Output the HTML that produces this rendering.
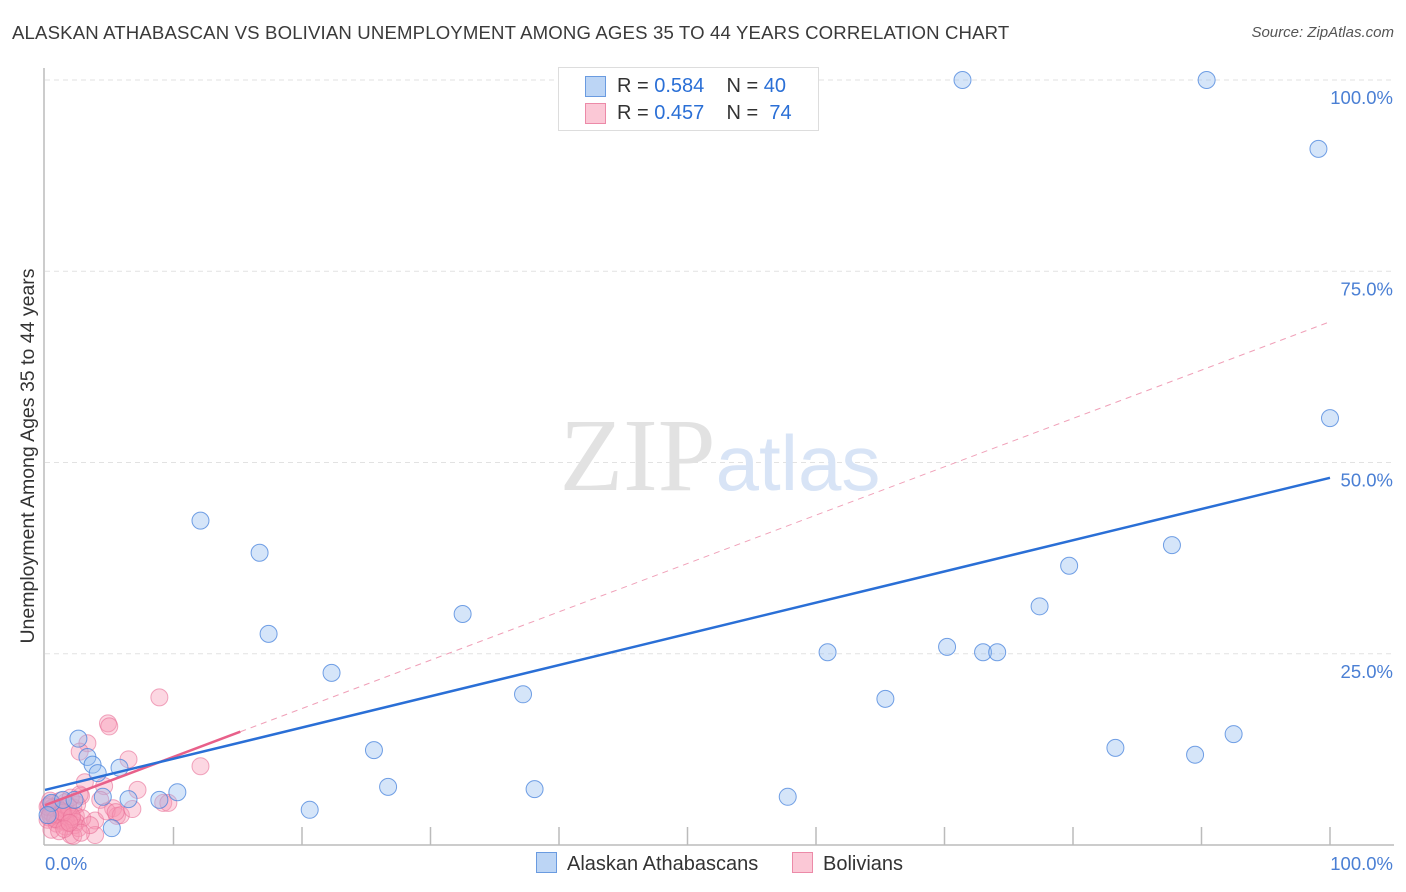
<!DOCTYPE html>
<html><head><meta charset="utf-8">
<style>
body{margin:0;background:#fff;font-family:"Liberation Sans",sans-serif;}
#wrap{position:relative;width:1406px;height:892px;overflow:hidden;}
.t{position:absolute;white-space:nowrap;}
</style></head>
<body>
<div id="wrap">
<div class="t" style="left:12px;top:22px;font-size:18.6px;letter-spacing:0.15px;color:#3a3a3a;">ALASKAN ATHABASCAN VS BOLIVIAN UNEMPLOYMENT AMONG AGES 35 TO 44 YEARS CORRELATION CHART</div>
<div class="t" style="right:12px;top:24px;font-size:15px;color:#555;font-style:italic;">Source: ZipAtlas.com</div>
<svg id="svg" width="1406" height="892" style="position:absolute;left:0;top:0"></svg>
</div>
<script>
const yTicks=[25,50,75,100];
const yTickLabels=["25.0%","50.0%","75.0%","100.0%"];
const xLabels=["0.0%","100.0%"];
const blueX=[71.4,90.4,99.1,100,12.1,16.7,17.4,32.5,22.3,37.2,25.6,26.7,38.1,20.6,57.8,60.9,65.4,70.2,73,74.1,77.4,79.7,87.7,83.3,89.5,92.5,2.6,3.3,3.7,4.1,5.8,6.5,8.9,10.3,5.2,0.5,1.4,2.3,0.2,4.5];
const blueY=[100,100,91,55.8,42.4,38.2,27.6,30.2,22.5,19.7,12.4,7.6,7.3,4.6,6.3,25.2,19.1,25.9,25.2,25.2,31.2,36.5,39.2,12.7,11.8,14.5,13.9,11.5,10.5,9.4,10.1,6.0,5.9,6.9,2.2,5.5,5.9,5.9,3.9,6.3];
const pinkX=[8.9,4.9,5.0,3.3,2.7,6.5,12.1,3.1,4.6,7.2,9.2,9.6,2.8,4.3,5.3,5.6,3.9,3.9,2.0,1.2,0.3,0.6,0.9,1.3,1.6,1.9,2.2,2.5,0.4,0.8,1.1,1.5,1.8,2.1,2.4,0.2,0.5,1.0,1.4,1.7,2.3,2.9,0.3,0.7,1.2,2.0,2.6,0.6,1.0,0.3,0.9,1.6,2.4,0.5,4.8,5.9,6.8,1.1,2.2,3.5,0.6,1.8,2.7,0.2,0.8,1.4,1.3,2.1,0.4,0.4,1.5,2.8,1.9,5.5];
const pinkY=[19.3,15.9,15.5,13.3,12.2,11.2,10.3,8.2,7.7,7.2,5.5,5.5,6.4,5.9,4.8,3.8,3.2,1.3,1.3,3.2,5.2,5.4,5.0,4.8,5.6,4.4,4.9,5.3,4.2,3.9,4.6,3.6,4.1,3.4,3.8,3.3,4.7,4.3,3.1,2.9,2.6,3.5,4.5,5.0,5.8,6.2,2.2,4.0,3.2,3.6,2.8,2.4,3.0,2.0,4.4,3.9,4.7,1.8,1.2,2.6,4.9,5.1,6.6,5.0,3.4,4.2,4.4,3.7,3.9,5.8,2.1,1.6,2.9,4.3];
const blueFit=[7.2,48.0];   // value at x=0, x=100
const pinkFit=[5.2,68.4];   // value at x=0, x=100
const pinkSolidEnd=15.2;

const svg=document.getElementById('svg');
const NS='http://www.w3.org/2000/svg';
const X0=45,X1=1330,Y0=845,Y1=80;
const xs=v=>X0+(X1-X0)*v/100;
const ys=v=>Y0-(Y0-Y1)*v/100;
function mk(tag,attrs,parent){const e=document.createElementNS(NS,tag);for(const k in attrs)e.setAttribute(k,attrs[k]);(parent||svg).appendChild(e);return e;}

yTicks.forEach((t,i)=>{
  const g=mk('line',{x1:X0,x2:1394,y1:ys(t),y2:ys(t),stroke:'#e2e2e2','stroke-dasharray':'5,4','stroke-width':1});
  
  
  const tx=mk('text',{x:1393,y:ys(t)+24,'text-anchor':'end','font-size':18.5,fill:'#4a7fd4','font-family':'Liberation Sans, sans-serif'});
  tx.textContent=yTickLabels[i];
  
  
});
const ax=mk('line',{x1:44,x2:44,y1:68,y2:Y0,stroke:'#bbb','stroke-width':1.5});


const bx=mk('line',{x1:44,x2:1394,y1:Y0,y2:Y0,stroke:'#bbb','stroke-width':1.5});


for(let i=1;i<=10;i++){
  const tk=mk('line',{x1:xs(i*10),x2:xs(i*10),y1:827,y2:Y0,stroke:'#bbb','stroke-width':1.5});
  
  
}
[[45,'start',xLabels[0]],[1393,'end',xLabels[1]]].forEach(a=>{
  const t=mk('text',{x:a[0],y:870,'text-anchor':a[1],'font-size':18.5,fill:'#4a7fd4','font-family':'Liberation Sans, sans-serif'});
  t.textContent=a[2];
  
  
});
const yt=mk('text',{x:0,y:0,transform:'translate(34,456) rotate(-90)','text-anchor':'middle','font-size':19.5,fill:'#333','font-family':'Liberation Sans, sans-serif'});
yt.textContent='Unemployment Among Ages 35 to 44 years';


const wm=mk('text',{x:720,y:490,'text-anchor':'middle','font-size':104,fill:'#e2e2e2','font-family':'Liberation Serif, serif'});
wm.innerHTML='ZIP<tspan fill="#d8e4f6" font-family="Liberation Sans, sans-serif" font-size="78">atlas</tspan>';



pinkX.forEach((v,i)=>{
  const c=mk('circle',{cx:xs(v),cy:ys(pinkY[i]),r:8.5,fill:'rgba(246,150,180,0.38)',stroke:'rgba(232,110,150,0.6)','stroke-width':1});
  
  
});
blueX.forEach((v,i)=>{
  const c=mk('circle',{cx:xs(v),cy:ys(blueY[i]),r:8.5,fill:'rgba(150,190,240,0.4)',stroke:'rgba(70,130,220,0.75)','stroke-width':1});
  
  
});
const pf=x=>pinkFit[0]+(pinkFit[1]-pinkFit[0])*x/100;
const pd=mk('line',{x1:xs(pinkSolidEnd),y1:ys(pf(pinkSolidEnd)),x2:xs(100),y2:ys(pf(100)),stroke:'#f0a0b8','stroke-width':1,'stroke-dasharray':'6,5'});


const ps=mk('line',{x1:xs(0),y1:ys(pf(0)),x2:xs(pinkSolidEnd),y2:ys(pf(pinkSolidEnd)),stroke:'#e8608a','stroke-width':2.5});


const bl=mk('line',{x1:xs(0),y1:ys(blueFit[0]),x2:xs(100),y2:ys(blueFit[1]),stroke:'#2a6fd6','stroke-width':2.5});


</script>
<div class="t" style="left:558px;top:67px;width:259px;height:62px;border:1px solid #ddd;background:#fff;font-size:20px;color:#333;">
  <div style="position:absolute;left:26px;top:8px;width:19px;height:19px;background:#bcd5f5;border:1px solid #6a9be0;"></div>
  <div style="position:absolute;left:58px;top:7px;">R = <span style="color:#2a6fd6">0.584</span>&nbsp;&nbsp;&nbsp; N = <span style="color:#2a6fd6">40</span></div>
  <div style="position:absolute;left:26px;top:35px;width:19px;height:19px;background:#fbc8d6;border:1px solid #ec8aa8;"></div>
  <div style="position:absolute;left:58px;top:34px;">R = <span style="color:#2a6fd6">0.457</span>&nbsp;&nbsp;&nbsp; N = &nbsp;<span style="color:#2a6fd6">74</span></div>
</div>
<div class="t" style="left:536px;top:852px;font-size:20px;color:#333;">
  <span style="display:inline-block;width:19px;height:19px;background:#bcd5f5;border:1px solid #6a9be0;vertical-align:-3px;margin-right:10px;"></span>Alaskan Athabascans</div>
<div class="t" style="left:792px;top:852px;font-size:20px;color:#333;">
  <span style="display:inline-block;width:19px;height:19px;background:#fbc8d6;border:1px solid #ec8aa8;vertical-align:-3px;margin-right:10px;"></span>Bolivians</div>
</body></html>
